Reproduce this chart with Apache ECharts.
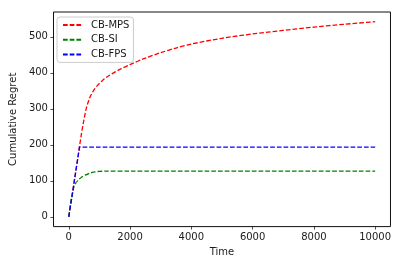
<!DOCTYPE html>
<html>
<head>
<meta charset="utf-8">
<script src="https://cdn.jsdelivr.net/npm/echarts@6/dist/echarts.min.js"></script>
<style>
html,body{margin:0;padding:0;background:#fff;}
#chart{width:394px;height:262px;}
</style>
</head>
<body>
<div id="chart"></div>
<script>
var seriesNames = ['CB-MPS', 'CB-SI', 'CB-FPS'];
var xTicks = [0, 2000, 4000, 6000, 8000, 10000];
var yTicks = [0, 100, 200, 300, 400, 500];
var mpsData = [[0,0],[100,55],[200,111],[300,167],[350,196],[400,224],[450,250],[500,272],[566,300],[650,323],[728,339],[850,356],[945,366],[1100,379],[1269,390],[1500,402],[1700,411],[2000,423],[2500,441],[3000,456],[3500,469],[4000,480],[5000,496],[6000,508],[7000,518],[8000,527],[9000,535],[10000,542]];
var siData = [[0,0],[100,55],[140,74],[175,85],[250,97],[350,106],[450,112],[566,117],[700,122],[835,125],[1000,126.5],[1200,127],[2000,127],[10000,127]];
var fpsData = [[0,0],[350,194],[10000,194]];
var colors = ['#ff0000', '#008000', '#0000ff'];

var chart = echarts.init(document.getElementById('chart'), null, {renderer: 'canvas'});
var font = 'DejaVu Sans';
var txt = {fontFamily: font, fontSize: 10, color: '#1a1a1a'};
function mk(name, data, color, smooth, mono) {
  var s = {
    name: name, type: 'line', data: data, symbol: 'none', showSymbol: false,
    smooth: smooth,
    lineStyle: {color: color, width: 1.3, type: [4.7, 2]},
    itemStyle: {color: color}, animation: false
  };
  if (mono) s.smoothMonotone = 'x';
  return s;
}
chart.setOption({
  animation: false,
  grid: {left: 52, right: 2, top: 12, bottom: 30, show: true, borderColor: '#111', borderWidth: 1, backgroundColor: 'transparent'},
  legend: {
    left: 57, top: 17, orient: 'vertical',
    data: seriesNames,
    itemWidth: 20, itemHeight: 10, itemGap: 4.7,
    padding: [3, 4, 3, 5],
    borderColor: '#cccccc', borderWidth: 1, borderRadius: 3,
    backgroundColor: 'rgba(255,255,255,0.8)',
    itemStyle: {opacity: 0},
    textStyle: {fontFamily: font, fontSize: 10, color: '#1a1a1a', padding: [0, 0, 0, 3]}
  },
  xAxis: {
    type: 'value', min: -500, max: 10500,
    name: 'Time', nameLocation: 'middle', nameGap: 19.5,
    nameTextStyle: txt,
    axisLine: {show: false, onZero: false},
    splitLine: {show: false},
    axisTick: {show: true, inside: false, length: 3, lineStyle: {color: '#222', width: 0.8}, customValues: xTicks},
    axisLabel: {fontFamily: font, fontSize: 10, color: '#1a1a1a', margin: 5.5, customValues: xTicks, formatter: function (v) { return String(v); }}
  },
  yAxis: {
    type: 'value', min: -27, max: 569,
    name: 'Cumulative Regret', nameLocation: 'middle', nameGap: 30.5,
    nameTextStyle: txt,
    axisLine: {show: false, onZero: false},
    splitLine: {show: false},
    axisTick: {show: true, inside: false, length: 3, lineStyle: {color: '#222', width: 0.8}, customValues: yTicks},
    axisLabel: {fontFamily: font, fontSize: 10, color: '#1a1a1a', margin: 5.5, customValues: yTicks, formatter: function (v) { return String(v); }}
  },
  series: [
    mk(seriesNames[0], mpsData, colors[0], 0.3, false),
    mk(seriesNames[1], siData, colors[1], 0.3, true),
    mk(seriesNames[2], fpsData, colors[2], false, false)
  ]
});
</script>
</body>
</html>
